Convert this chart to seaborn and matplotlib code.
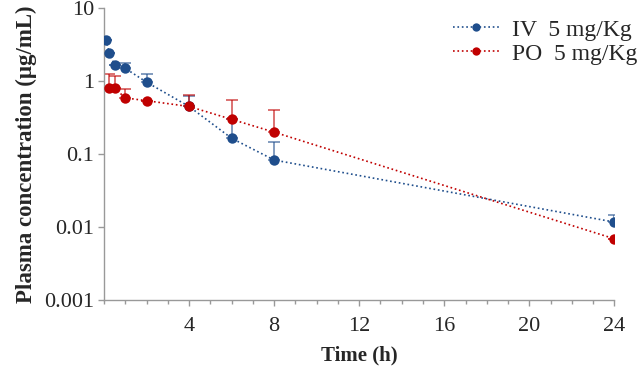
import numpy as np
import pandas as pd
import seaborn as sns
import matplotlib.pyplot as plt
from matplotlib.ticker import FixedLocator, FuncFormatter, MultipleLocator, NullLocator

# data
iv_time = [0.083, 0.25, 0.5, 1, 2, 4, 6, 8, 24]
iv_conc = [3.7, 2.47, 1.65, 1.5, 0.97, 0.45, 0.165, 0.083, 0.0117]
iv_upper = [3.7, 2.47, 1.65, 1.75, 1.24, 0.62, 0.30, 0.145, 0.0146]

po_time = [0.25, 0.5, 1, 2, 4, 6, 8, 24]
po_conc = [0.80, 0.80, 0.59, 0.54, 0.45, 0.30, 0.20, 0.0069]
po_upper = [1.24, 1.17, 0.78, 0.54, 0.65, 0.55, 0.40, 0.0069]

labels = ['IV  5 mg/Kg', 'PO  5 mg/Kg']
colors = ['#1f4e8c', '#c00000']
y_ticks = [0.001, 0.01, 0.1, 1, 10]
x_ticks = [4, 8, 12, 16, 20, 24]

df = pd.concat([
    pd.DataFrame({'time': iv_time, 'conc': iv_conc, 'upper': iv_upper, 'group': labels[0]}),
    pd.DataFrame({'time': po_time, 'conc': po_conc, 'upper': po_upper, 'group': labels[1]}),
])

sns.set_style('white')
plt.rcParams['font.family'] = ['Liberation Serif', 'DejaVu Serif']

fig, ax = plt.subplots(figsize=(6.4, 3.75), dpi=100)
fig.subplots_adjust(left=0.1625, right=0.96, bottom=0.2, top=0.978)

pal = dict(zip(labels, colors))
# upper error bars only
for g, sub in df.groupby('group'):
    err = np.array(sub['upper']) - np.array(sub['conc'])
    ax.errorbar(sub['time'], sub['conc'], yerr=[np.zeros_like(err), err],
                fmt='none', ecolor=pal[g], elinewidth=1.3, capsize=4, capthick=1.3,
                alpha=0.6, zorder=2)

sns.lineplot(data=df, x='time', y='conc', hue='group', palette=pal,
             marker='o', markersize=7.5, markeredgewidth=0, linestyle=':',
             linewidth=1.2, ax=ax, zorder=3, legend=True)

ax.set_yscale('log')
ax.set_ylim(0.001, 10)
ax.set_xlim(0, 24)
ax.yaxis.set_major_locator(FixedLocator(y_ticks))
ax.yaxis.set_major_formatter(FuncFormatter(lambda v, p: '%g' % v))
ax.yaxis.set_minor_locator(NullLocator())
ax.xaxis.set_major_locator(FixedLocator(x_ticks))
ax.xaxis.set_minor_locator(MultipleLocator(1))

for s in ['top', 'right']:
    ax.spines[s].set_visible(False)
for s in ['left', 'bottom']:
    ax.spines[s].set_color('#999999')
    ax.spines[s].set_linewidth(1.0)

ax.tick_params(axis='both', which='major', direction='out', length=4, width=1,
               color='#999999', labelsize=16, left=True, bottom=True)
ax.tick_params(axis='y', which='major', pad=3)
ax.tick_params(axis='x', which='major', pad=8)
ax.tick_params(axis='x', which='minor', direction='out', length=3, width=1,
               color='#999999', bottom=True)

ax.set_xlabel('Time (h)', fontsize=15, fontweight='bold', labelpad=7)
ax.set_ylabel('Plasma concentration (μg/mL)', fontsize=16.5, fontweight='bold', labelpad=5)

leg = ax.legend(frameon=False, loc='upper right', fontsize=17, handlelength=2.0,
                handletextpad=0.5, borderaxespad=0.0, labelspacing=0.1,
                bbox_to_anchor=(1.063, 0.995))
for h in leg.legend_handles:
    h.set_markersize(6)

fig.savefig('out.png', dpi=100)
